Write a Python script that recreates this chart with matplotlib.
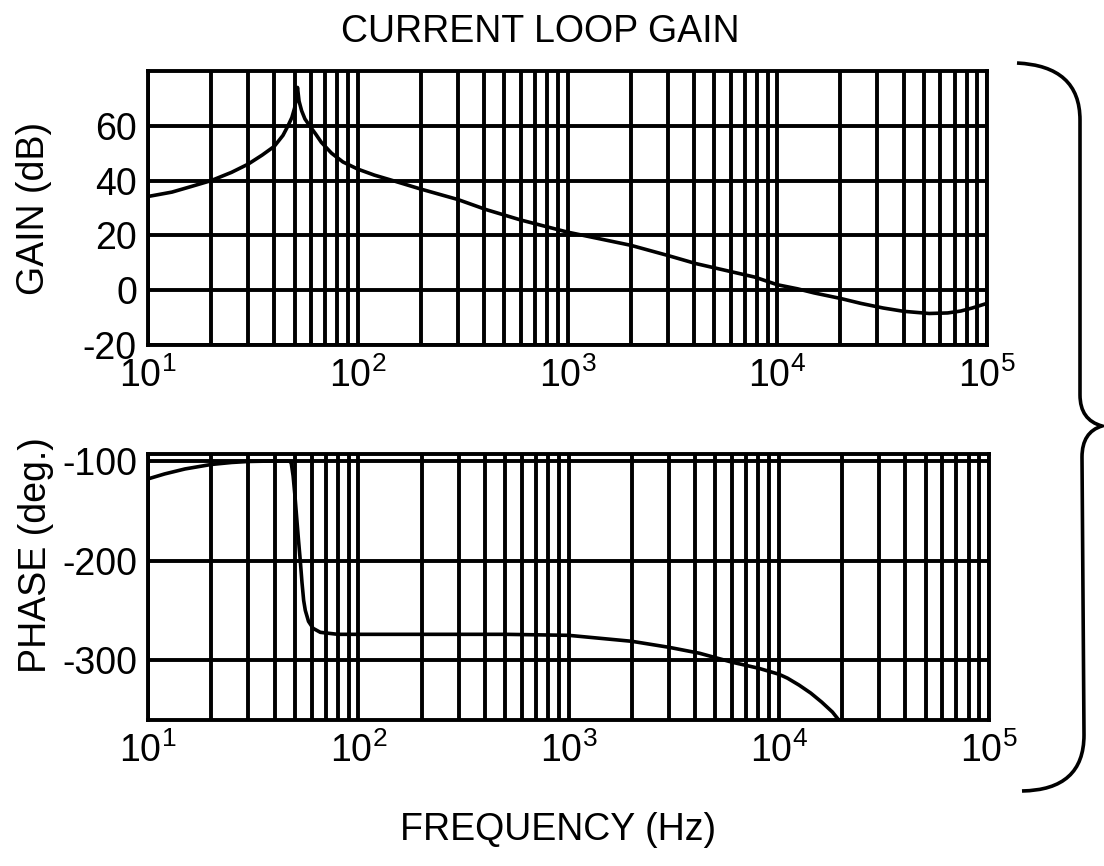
import matplotlib
matplotlib.use("Agg")
import matplotlib.pyplot as plt
import numpy as np
from matplotlib.path import Path
from matplotlib.patches import PathPatch
from matplotlib.ticker import LogLocator, FixedLocator, NullFormatter

plt.rcParams['font.family'] = ['Liberation Sans', 'DejaVu Sans']
plt.rcParams['mathtext.fontset'] = 'custom'
plt.rcParams['mathtext.rm'] = 'Liberation Sans'
plt.rcParams['axes.unicode_minus'] = False

# gain curve (Hz, dB)
gain_f = [10, 13, 16, 20, 25, 30, 35, 40, 44, 46.5, 48.5, 50, 51, 51.6, 52.5, 54, 56,
          59, 63, 67, 75, 85, 100, 120, 147, 200, 300, 410, 600, 1000, 2000, 3000,
          4100, 7800, 10000, 12500, 15000, 20000, 25000, 32000, 40000, 53000, 65000,
          75000, 85000, 100000]
gain_db = [34.2, 35.8, 37.8, 40, 43, 46, 49.3, 52.5, 56.5, 60, 63, 66.5, 70, 74, 69,
           65.5, 62.5, 60, 57, 54, 50, 46.8, 44.2, 42, 40, 36.9, 33.1, 29.4, 25.6, 21.2,
           16.4, 12.7, 9.7, 4.8, 2, 0.5, -1, -3, -4.8, -6.5, -7.7, -8.5, -8.3,
           -7.6, -6.5, -4.8]

# phase curve (Hz, deg)
phase_f = [10, 12, 15, 20, 25, 30, 40, 46, 47.5, 48, 49, 50, 51, 52, 53, 54, 55, 56,
           58, 61, 66, 80, 100, 200, 500, 1000, 2000, 3000, 4200, 6000, 8000, 10000,
           11000, 12500, 14200, 16000, 18000, 19300]
phase_deg = [-118, -113, -108, -103.5, -101.5, -100.5, -100, -100, -100.5, -102, -115,
             -135, -158, -180, -200, -222, -240, -250, -261, -268, -272, -274, -274,
             -274, -274, -275, -281, -287, -293, -302, -308, -314, -318, -325, -333,
             -342, -352, -360]

gain_ticks = [-20, 0, 20, 40, 60]
phase_ticks = [-300, -200, -100]

W, H = 1104, 866
fig = plt.figure(figsize=(W / 100, H / 100), dpi=100)

lw = 2.8
fs = 27


def style(ax):
    ax.set_xscale('log')
    ax.set_xlim(10, 1e5)
    ax.xaxis.set_major_locator(LogLocator(base=10))
    ax.xaxis.set_minor_locator(LogLocator(base=10, subs=np.arange(2, 10)))
    ax.xaxis.set_minor_formatter(NullFormatter())
    ax.grid(which='both', axis='x', color='k', lw=lw)
    ax.grid(which='major', axis='y', color='k', lw=lw)
    ax.tick_params(which='both', length=0, labelsize=fs)
    ax.tick_params(axis='x', pad=9)
    ax.tick_params(axis='y', pad=8)
    for s in ax.spines.values():
        s.set_linewidth(lw)


ax1 = fig.add_axes([148 / W, 1 - 345 / H, 839 / W, 274 / H])
ax1.plot(gain_f, gain_db, color='k', lw=2.6)
style(ax1)
ax1.set_ylim(-20, 80)
ax1.yaxis.set_major_locator(FixedLocator(gain_ticks))

ax2 = fig.add_axes([148 / W, 1 - 720 / H, 841 / W, 266 / H])
ax2.plot(phase_f, phase_deg, color='k', lw=2.6)
style(ax2)
ax2.set_ylim(-360, -93)
ax2.yaxis.set_major_locator(FixedLocator(phase_ticks))

fig.text(540 / W, 1 - 32 / H, 'CURRENT LOOP GAIN', ha='center', va='center', fontsize=fs)
fig.text(558 / W, 1 - 830 / H, 'FREQUENCY (Hz)', ha='center', va='center', fontsize=fs)
fig.text(34 / W, 1 - 208 / H, 'GAIN (dB)', rotation=90, ha='center', va='center', fontsize=fs)
fig.text(36 / W, 1 - 555 / H, 'PHASE (deg.)', rotation=90, ha='center', va='center', fontsize=fs)

# curly brace on the right, pixel coords
pts = [(1017, 63), (1080, 66), (1080, 120), (1080, 395), (1080, 420), (1102, 426),
       (1082, 432), (1082, 457), (1084, 735), (1084, 790), (1022, 791)]
codes = [Path.MOVETO, Path.CURVE3, Path.CURVE3, Path.LINETO, Path.CURVE3, Path.CURVE3,
         Path.CURVE3, Path.CURVE3, Path.LINETO, Path.CURVE3, Path.CURVE3]
verts = [(x / W, 1 - y / H) for x, y in pts]
fig.patches.append(PathPatch(Path(verts, codes), transform=fig.transFigure,
                             fill=False, lw=2.6, color='k'))

fig.savefig('out.png', dpi=100)
